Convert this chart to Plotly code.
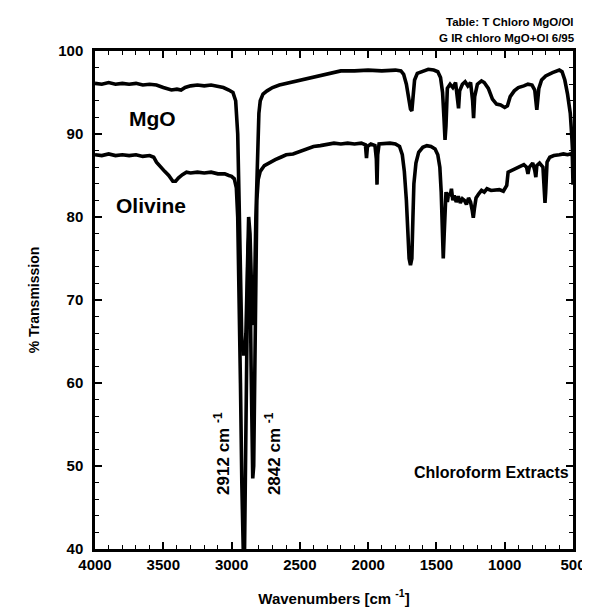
import plotly.graph_objects as go

# ---- data ----
mgo_wn = [4000, 3950, 3900, 3850, 3800, 3750, 3700, 3650, 3600, 3550, 3500, 3470, 3440, 3400, 3370,
          3340, 3300, 3250, 3200, 3150, 3100, 3060, 3020, 2990, 2970, 2955, 2945, 2935, 2925, 2915,
          2905, 2895, 2885, 2875, 2865, 2855, 2848, 2840, 2832, 2822, 2812, 2800, 2790, 2770, 2740,
          2700, 2650, 2600, 2550, 2500, 2450, 2400, 2350, 2300, 2250, 2200, 2100, 2000, 1900, 1800,
          1760, 1740, 1720, 1700, 1690, 1680, 1670, 1660, 1640, 1600, 1560, 1520, 1490, 1470, 1455,
          1445, 1437, 1430, 1420, 1400, 1380, 1360, 1345, 1338, 1330, 1310, 1290, 1270, 1250, 1235,
          1228, 1220, 1200, 1170, 1150, 1120, 1090, 1060, 1030, 1000, 980, 960, 930, 900, 860,
          830, 800, 780, 765, 750, 730, 700, 650, 600, 580, 560, 540, 520, 510, 503, 500]
mgo_t = [96.1, 96.0, 96.2, 96.0, 96.1, 96.0, 96.1, 95.9, 96.0, 95.9, 95.6, 95.4, 95.3, 95.4, 95.3,
         95.6, 95.8, 95.9, 95.8, 95.9, 95.7, 95.6, 95.3, 95.0, 94.0, 90.0, 82.0, 72.0, 65.0, 63.5,
         63.5, 66.0, 74.0, 80.0, 78.0, 72.0, 68.0, 67.0, 71.0, 80.0, 88.0, 92.5, 94.0, 94.8, 95.2,
         95.6, 95.9, 96.1, 96.3, 96.5, 96.7, 96.8, 97.0, 97.2, 97.5, 97.6, 97.6, 97.7, 97.6, 97.7,
         97.6, 97.2, 96.0, 94.0, 93.0, 92.8, 94.5, 96.5, 97.3, 97.6, 97.8, 97.7, 97.5, 96.8, 95.0,
         92.0, 89.3, 91.0, 95.5, 96.0, 95.6, 96.2, 94.0, 93.1, 95.2, 96.0, 96.3, 95.8, 96.2, 94.0,
         91.9, 94.5, 96.0, 96.4, 96.2, 95.5, 94.2, 93.6, 93.5, 93.2, 93.4, 94.5, 95.2, 95.6, 95.8,
         96.0, 95.9, 95.3, 92.9, 95.5, 96.5, 97.0, 97.4, 97.7, 97.5, 96.5, 94.8, 92.5, 90.0, 88.0, 87.0]

oliv_wn = [4000, 3950, 3900, 3850, 3800, 3750, 3700, 3650, 3600, 3570, 3550, 3520, 3490, 3460, 3430,
           3410, 3390, 3360, 3330, 3300, 3250, 3200, 3150, 3100, 3050, 3020, 3000, 2980, 2965, 2955,
           2945, 2935, 2925, 2918, 2912, 2905, 2897, 2888, 2880, 2872, 2865, 2857, 2850, 2845, 2838,
           2830, 2822, 2815, 2805, 2790, 2760, 2720, 2680, 2640, 2600, 2550, 2500, 2450, 2400, 2350,
           2300, 2250, 2200, 2150, 2100, 2050, 2020, 2012, 2005, 1980, 1950, 1940, 1935, 1930, 1920,
           1880, 1840, 1800, 1770, 1750, 1735, 1720, 1710, 1700, 1690, 1680, 1672, 1665, 1650, 1630,
           1600, 1570, 1540, 1510, 1490, 1475, 1465, 1458, 1450, 1443, 1437, 1430, 1420, 1410, 1400,
           1390, 1380, 1370, 1355, 1340, 1325, 1310, 1295, 1280, 1265, 1250, 1238, 1230, 1222, 1210,
           1190, 1170, 1150, 1130, 1100, 1070, 1040, 1010, 985, 975, 950, 920, 890, 860, 840,
           830, 820, 795, 780, 772, 765, 745, 720, 710, 705, 700, 690, 670, 640, 600,
           570, 540, 520, 505, 502, 500]
oliv_t = [87.5, 87.4, 87.6, 87.4, 87.5, 87.4, 87.5, 87.3, 87.4, 87.2, 86.6, 86.0, 85.5, 85.0, 84.3,
          84.3, 84.7, 85.1, 85.4, 85.3, 85.4, 85.3, 85.4, 85.2, 85.2, 85.0, 84.9, 84.6, 83.5, 80.0,
          72.0, 60.0, 48.0, 42.0, 38.0, 40.0, 55.0, 68.0, 76.0, 78.0, 74.0, 62.0, 52.0, 48.5, 50.0,
          64.0, 76.0, 82.0, 84.5, 85.5, 86.2, 86.6, 86.9, 87.2, 87.5, 87.6, 87.9, 88.3, 88.5, 88.6,
          88.8, 88.9, 88.8, 88.9, 88.8, 88.9, 88.7, 87.1, 88.5, 88.8, 88.6, 87.0, 83.9, 87.5, 88.8,
          88.9, 88.9, 88.8, 88.5, 87.5, 85.5, 82.0, 78.0, 75.0, 74.2, 75.0, 80.0, 84.0, 86.5, 87.8,
          88.4, 88.6, 88.5, 88.2, 87.5, 86.0, 83.0, 79.0, 75.0, 78.0, 82.5, 83.0, 81.8, 82.9, 82.5,
          83.4, 82.0, 82.6, 81.8, 82.5, 81.7, 82.2, 82.0, 81.5, 82.3, 81.8, 80.8, 79.9, 81.0, 82.3,
          82.8, 83.2, 83.0, 83.4, 83.2, 83.3, 83.3, 83.1, 83.8, 85.4, 85.6, 85.8, 86.1, 86.3, 86.0,
          85.2, 86.0, 86.5, 85.6, 84.8, 86.2, 86.5, 86.0, 82.5, 81.7, 83.0, 86.6, 87.2, 87.4, 87.5,
          87.6, 87.5, 87.6, 87.4, 86.0, 83.9]

x_tickvals = [4000, 3500, 3000, 2500, 2000, 1500, 1000, 500]
y_tickvals = [40, 50, 60, 70, 80, 90, 100]

FONT = "Liberation Sans"

fig = go.Figure()
fig.add_trace(go.Scatter(x=mgo_wn, y=mgo_t, mode="lines", name="MgO",
                         line=dict(color="black", width=3.6)))
fig.add_trace(go.Scatter(x=oliv_wn, y=oliv_t, mode="lines", name="Olivine",
                         line=dict(color="black", width=3.6)))

axis_common = dict(showline=True, linecolor="black", linewidth=2.5, mirror="ticks",
                   ticks="inside", ticklen=7, tickwidth=1.6, tickcolor="black",
                   showgrid=False, zeroline=False,
                   tickfont=dict(family=FONT, size=15, color="black", weight="bold"))

fig.update_xaxes(range=[4000, 500], tickvals=x_tickvals,
                 minor=dict(dtick=100, ticks="inside", ticklen=4, tickwidth=1.3, tickcolor="black"),
                 title=dict(text="<b>Wavenumbers [cm <sup>-1</sup>]</b>", standoff=22,
                            font=dict(family=FONT, size=15, color="black")),
                 **axis_common)
fig.update_yaxes(range=[40, 100], tickvals=y_tickvals,
                 minor=dict(dtick=2, ticks="inside", ticklen=4, tickwidth=1.3, tickcolor="black"),
                 title=dict(text="<b>% Transmission</b>", standoff=16,
                            font=dict(family=FONT, size=14, color="black")),
                 ticklabelstandoff=6,
                 **axis_common)

def label(text, x, y, size, **kw):
    fig.add_annotation(text=f"<b>{text}</b>", x=x, y=y, xref="x", yref="y", showarrow=False,
                       font=dict(family=FONT, size=size, color="black"), **kw)

label("MgO", 3580, 91.9, 21)
label("Olivine", 3590, 81.4, 21)
label("2912 cm <sup>-1</sup>", 3075, 51.5, 17, textangle=-90)
label("2842 cm <sup>-1</sup>", 2700, 51.5, 17, textangle=-90)
label("Chloroform Extracts", 1100, 49.2, 16)

fig.add_annotation(text="<b>Table: T Chloro MgO/Ol</b>", xref="paper", yref="paper", x=1.006, y=1.058,
                   xanchor="right", yanchor="middle", showarrow=False,
                   font=dict(family=FONT, size=11.5, color="black"))
fig.add_annotation(text="<b>G IR chloro MgO+Ol 6/95</b>", xref="paper", yref="paper", x=1.009, y=1.027,
                   xanchor="right", yanchor="middle", showarrow=False,
                   font=dict(family=FONT, size=11.5, color="black"))

fig.update_layout(width=590, height=609, showlegend=False,
                  paper_bgcolor="white", plot_bgcolor="white",
                  margin=dict(l=87, r=18, t=43, b=68))

fig.write_html("out.html")
